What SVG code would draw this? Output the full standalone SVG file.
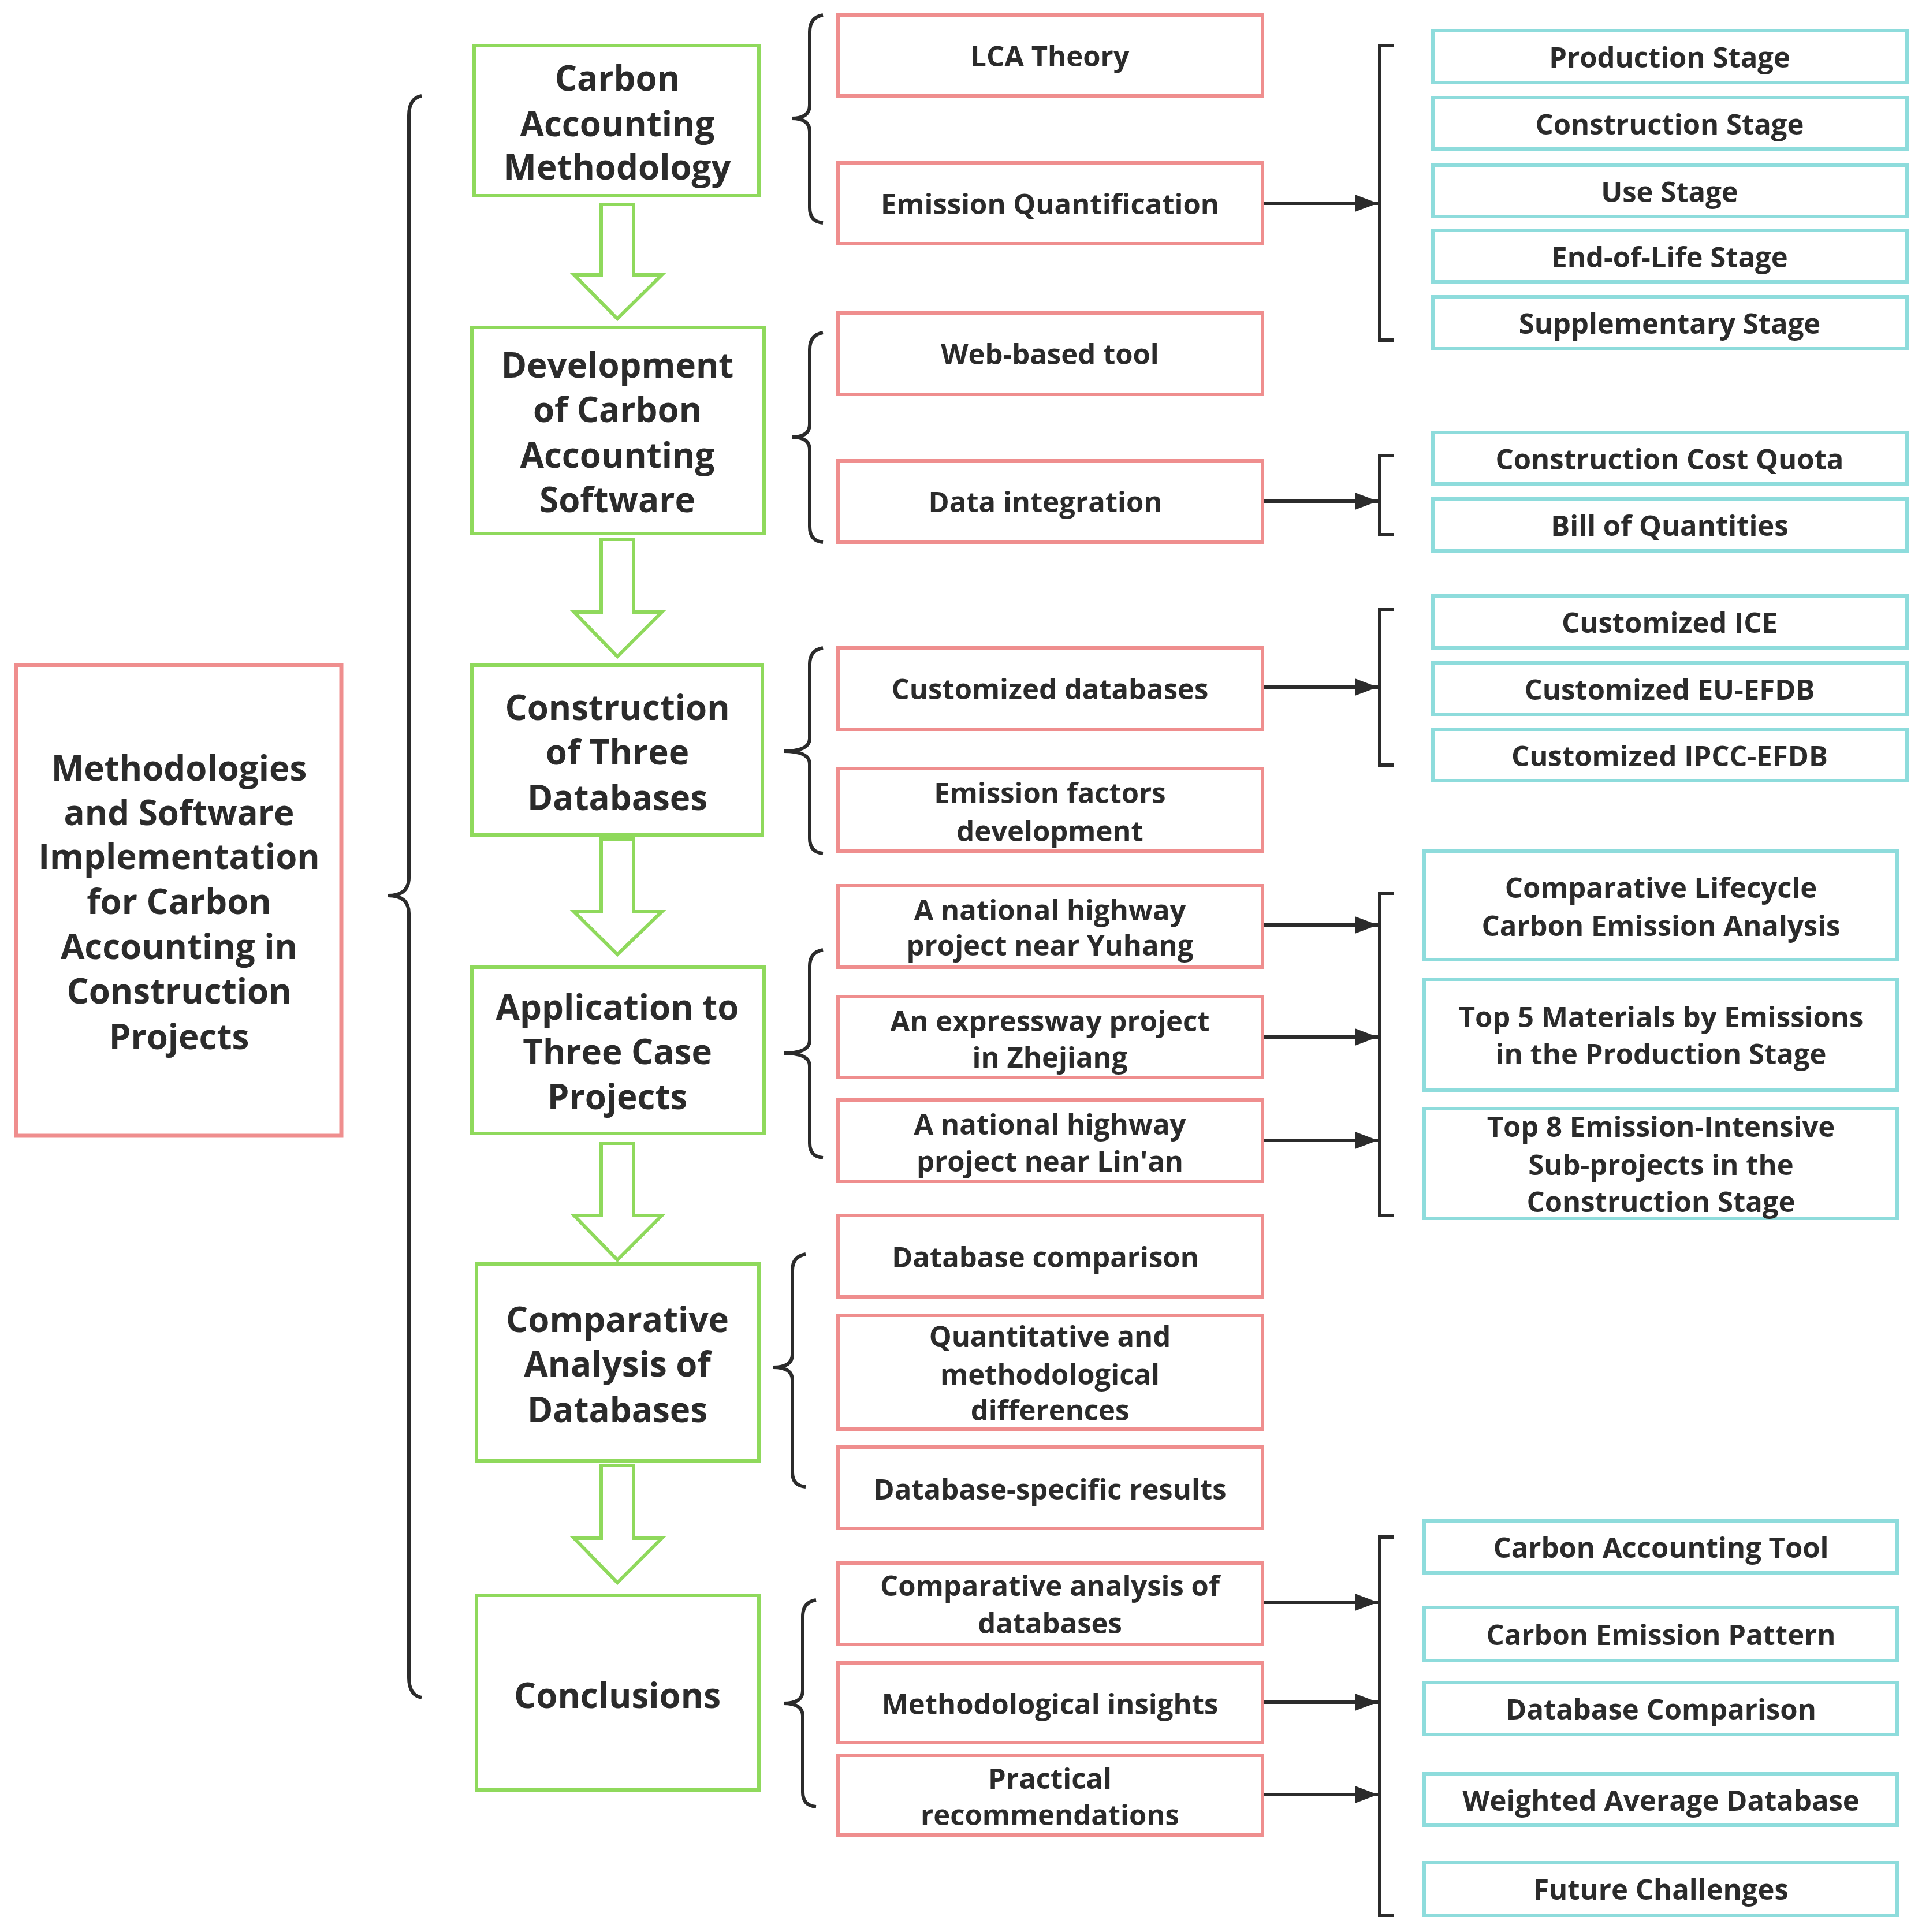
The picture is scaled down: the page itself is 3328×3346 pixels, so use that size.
<svg xmlns="http://www.w3.org/2000/svg" width="3328" height="3346" viewBox="0 0 3328 3346">
<defs>
<marker id="a2" viewBox="0 0 10 10" refX="10" refY="5" markerWidth="40" markerHeight="30" markerUnits="userSpaceOnUse" orient="auto" preserveAspectRatio="none"><path d="M0,0 L10,5 L0,10 z" fill="#2b2b2b"/></marker>
</defs>
<style>
text{font-family:"Open Sans","Noto Sans","Liberation Sans",sans-serif;font-weight:700;fill:#2b2b2b;text-anchor:middle;dominant-baseline:central}
.g rect{fill:#fff;stroke:#8fd95c;stroke-width:6}
.g text{font-size:60px}
.p rect{fill:#fff;stroke:#ef8e8e;stroke-width:6}
.p text{font-size:49px}
.c rect{fill:#fff;stroke:#8edcdc;stroke-width:6}
.c text{font-size:49px}
.m rect{fill:#fff;stroke:#ef8e8e;stroke-width:7}
.m text{font-size:60px}
.ba{fill:#fff;stroke:#8fd95c;stroke-width:6;stroke-linejoin:miter}
.br{fill:none;stroke:#2b2b2b;stroke-width:6}
.ln{fill:none;stroke:#2b2b2b;stroke-width:6;marker-end:url(#a2)}
</style>
<rect width="3328" height="3346" fill="#fff"/>
<g id="main" class="m"><rect x="28" y="1152" width="563" height="815"/>
<text x="310" y="1329">Methodologies</text><text x="310" y="1406">and Software</text><text x="310" y="1482">Implementation</text><text x="310" y="1560">for Carbon</text><text x="310" y="1638">Accounting in</text><text x="310" y="1715">Construction</text><text x="310" y="1794">Projects</text></g>

<g id="g1" class="g"><rect x="821" y="79" width="493" height="260"/><text x="1069" y="134">Carbon</text><text x="1069" y="213">Accounting</text><text x="1069" y="288">Methodology</text></g>
<g id="g2" class="g"><rect x="817" y="567" width="506" height="357"/><text x="1069" y="631">Development</text><text x="1069" y="708">of Carbon</text><text x="1069" y="787">Accounting</text><text x="1069" y="864">Software</text></g>
<g id="g3" class="g"><rect x="817" y="1152" width="503" height="294"/><text x="1069" y="1224">Construction</text><text x="1069" y="1301">of Three</text><text x="1069" y="1380">Databases</text></g>
<g id="g4" class="g"><rect x="817" y="1675" width="506" height="288"/><text x="1069" y="1743">Application to</text><text x="1069" y="1820">Three Case</text><text x="1069" y="1898">Projects</text></g>
<g id="g5" class="g"><rect x="825" y="2189" width="489" height="341"/><text x="1069" y="2284">Comparative</text><text x="1069" y="2361">Analysis of</text><text x="1069" y="2440">Databases</text></g>
<g id="g6" class="g"><rect x="825" y="2763" width="489" height="337"/><text x="1069" y="2935">Conclusions</text></g>

<g id="p1" class="p"><rect x="1451" y="26" width="735" height="140"/><text x="1818" y="96">LCA Theory</text></g>
<g id="p2" class="p"><rect x="1451" y="282" width="735" height="140"/><text x="1818" y="352">Emission Quantification</text></g>
<g id="p3" class="p"><rect x="1451" y="542" width="735" height="141"/><text x="1818" y="612">Web-based tool</text></g>
<g id="p4" class="p"><rect x="1451" y="798" width="735" height="141"/><text x="1810" y="868">Data integration</text></g>
<g id="p5" class="p"><rect x="1451" y="1122" width="735" height="141"/><text x="1818" y="1192">Customized databases</text></g>
<g id="p6" class="p"><rect x="1451" y="1331" width="735" height="143"/><text x="1818" y="1372">Emission factors</text><text x="1818" y="1438">development</text></g>
<g id="p7" class="p"><rect x="1451" y="1534" width="735" height="141"/><text x="1818" y="1575">A national highway</text><text x="1818" y="1636">project near Yuhang</text></g>
<g id="p8" class="p"><rect x="1451" y="1726" width="735" height="140"/><text x="1818" y="1767">An expressway project</text><text x="1818" y="1830">in Zhejiang</text></g>
<g id="p9" class="p"><rect x="1451" y="1905" width="735" height="141"/><text x="1818" y="1946">A national highway</text><text x="1818" y="2010">project near Lin'an</text></g>
<g id="p10" class="p"><rect x="1451" y="2105" width="735" height="141"/><text x="1810" y="2176">Database comparison</text></g>
<g id="p11" class="p"><rect x="1451" y="2278" width="735" height="197"/><text x="1818" y="2313">Quantitative and</text><text x="1818" y="2379">methodological</text><text x="1818" y="2441">differences</text></g>
<g id="p12" class="p"><rect x="1451" y="2506" width="735" height="141"/><text x="1818" y="2578">Database-specific results</text></g>
<g id="p13" class="p"><rect x="1451" y="2707" width="735" height="141"/><text x="1818" y="2745">Comparative analysis of</text><text x="1818" y="2810">databases</text></g>
<g id="p14" class="p"><rect x="1451" y="2880" width="735" height="138"/><text x="1818" y="2950">Methodological insights</text></g>
<g id="p15" class="p"><rect x="1451" y="3040" width="735" height="138"/><text x="1818" y="3079">Practical</text><text x="1818" y="3142">recommendations</text></g>

<g id="c1" class="c"><rect x="2481" y="53" width="821" height="90"/><text x="2891" y="98">Production Stage</text></g>
<g id="c2" class="c"><rect x="2481" y="169" width="821" height="89"/><text x="2891" y="214">Construction Stage</text></g>
<g id="c3" class="c"><rect x="2481" y="286" width="821" height="89"/><text x="2891" y="331">Use Stage</text></g>
<g id="c4" class="c"><rect x="2481" y="399" width="821" height="89"/><text x="2891" y="444">End-of-Life Stage</text></g>
<g id="c5" class="c"><rect x="2481" y="514" width="821" height="90"/><text x="2891" y="559">Supplementary Stage</text></g>
<g id="c6" class="c"><rect x="2481" y="749" width="821" height="89"/><text x="2891" y="794">Construction Cost Quota</text></g>
<g id="c7" class="c"><rect x="2481" y="864" width="821" height="90"/><text x="2891" y="909">Bill of Quantities</text></g>
<g id="c8" class="c"><rect x="2481" y="1032" width="821" height="90"/><text x="2891" y="1077">Customized ICE</text></g>
<g id="c9" class="c"><rect x="2481" y="1148" width="821" height="89"/><text x="2891" y="1193">Customized EU-EFDB</text></g>
<g id="c10" class="c"><rect x="2481" y="1263" width="821" height="89"/><text x="2891" y="1308">Customized IPCC-EFDB</text></g>
<g id="c11" class="c"><rect x="2466" y="1474" width="819" height="188"/><text x="2876" y="1536">Comparative Lifecycle</text><text x="2876" y="1602">Carbon Emission Analysis</text></g>
<g id="c12" class="c"><rect x="2466" y="1696" width="819" height="192"/><text x="2876" y="1760">Top 5 Materials by Emissions</text><text x="2876" y="1824">in the Production Stage</text></g>
<g id="c13" class="c"><rect x="2466" y="1920" width="819" height="190"/><text x="2876" y="1950">Top 8 Emission-Intensive</text><text x="2876" y="2016">Sub-projects in the</text><text x="2876" y="2080">Construction Stage</text></g>
<g id="c14" class="c"><rect x="2466" y="2634" width="819" height="90"/><text x="2876" y="2679">Carbon Accounting Tool</text></g>
<g id="c15" class="c"><rect x="2466" y="2784" width="819" height="92"/><text x="2876" y="2830">Carbon Emission Pattern</text></g>
<g id="c16" class="c"><rect x="2466" y="2914" width="819" height="90"/><text x="2876" y="2959">Database Comparison</text></g>
<g id="c17" class="c"><rect x="2466" y="3072" width="819" height="89"/><text x="2876" y="3117">Weighted Average Database</text></g>
<g id="c18" class="c"><rect x="2466" y="3226" width="819" height="91"/><text x="2876" y="3271">Future Challenges</text></g>

<g id="connectors">
<path class="ba" d="M1041,354 H1097 V476 H1146 L1069,552 L994,476 H1041 Z"/>
<path class="ba" d="M1041,934 H1097 V1060 H1146 L1069,1137 L994,1060 H1041 Z"/>
<path class="ba" d="M1041,1453 H1097 V1579 H1146 L1069,1653 L994,1579 H1041 Z"/>
<path class="ba" d="M1041,1980 H1097 V2105 H1146 L1069,2182 L994,2105 H1041 Z"/>
<path class="ba" d="M1041,2538 H1097 V2664 H1146 L1069,2741 L994,2664 H1041 Z"/>

<path class="br" d="M730,166 Q708,170 708,200 L708,1520 Q708,1551 672,1551 Q708,1551 708,1582 L708,2905 Q708,2936 730,2940"/>
<path class="br" d="M1425,26 Q1402,30 1402,55 L1402,182 Q1402,205 1371,205 Q1402,205 1402,228 L1402,360 Q1402,384 1425,386"/>
<path class="br" d="M1425,576 Q1402,580 1402,605 L1402,735 Q1402,757 1371,757 Q1402,757 1402,779 L1402,912 Q1402,937 1425,939"/>
<path class="br" d="M1425,1122 Q1402,1126 1402,1150 L1402,1279 Q1402,1301 1357,1301 Q1402,1301 1402,1323 L1402,1452 Q1402,1476 1425,1478"/>
<path class="br" d="M1425,1645 Q1402,1649 1402,1673 L1402,1802 Q1402,1824 1357,1824 Q1402,1824 1402,1846 L1402,1980 Q1402,2003 1425,2005"/>
<path class="br" d="M1395,2172 Q1372,2176 1372,2200 L1372,2346 Q1372,2368 1339,2368 Q1372,2368 1372,2390 L1372,2550 Q1372,2573 1395,2575"/>
<path class="br" d="M1413,2771 Q1390,2775 1390,2799 L1390,2928 Q1390,2950 1357,2950 Q1390,2950 1390,2972 L1390,3104 Q1390,3127 1413,3129"/>

<path class="br" d="M2413,79 H2389 V589 H2413"/>
<path class="br" d="M2413,789 H2389 V926 H2413"/>
<path class="br" d="M2413,1056 H2389 V1325 H2413"/>
<path class="br" d="M2413,1547 H2389 V2105 H2413"/>
<path class="br" d="M2413,2662 H2389 V3317 H2413"/>

<path class="ln" d="M2189,352 H2386"/>
<path class="ln" d="M2189,868 H2386"/>
<path class="ln" d="M2189,1190 H2386"/>
<path class="ln" d="M2189,1602 H2386"/>
<path class="ln" d="M2189,1796 H2386"/>
<path class="ln" d="M2189,1975 H2386"/>
<path class="ln" d="M2189,2775 H2386"/>
<path class="ln" d="M2189,2948 H2386"/>
<path class="ln" d="M2189,3108 H2386"/>
</g>
</svg>
